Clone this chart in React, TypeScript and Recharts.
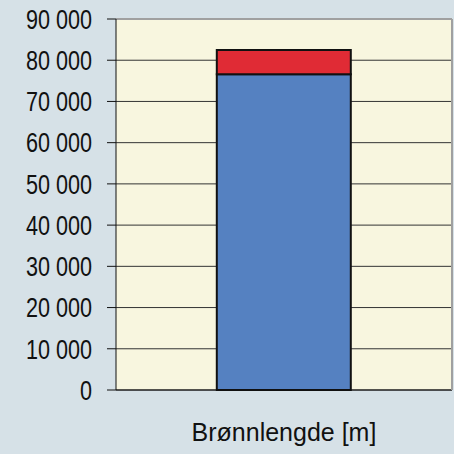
import { BarChart, Bar, XAxis, YAxis, CartesianGrid } from 'recharts'

const categories = ['Brønnlengde [m]']
const lowerValues = [76600]
const upperValues = [5900]
const yTicks = [0, 10000, 20000, 30000, 40000, 50000, 60000, 70000, 80000, 90000]

const data = categories.map((name, i) => ({
  name,
  lower: lowerValues[i],
  upper: upperValues[i],
}))

const fmt = (v: number) => (v === 0 ? '0' : `${Math.floor(v / 1000)} ${String(v % 1000).padStart(3, '0')}`)

// narrow-looking tick labels (no Arial Narrow installed, so squeeze Liberation Sans)
const NarrowTick = ({ x, y, payload }: any) => (
  <g transform={`translate(${x},${y})`}>
    <text
      transform="scale(0.8,1)"
      textAnchor="end"
      dy="0.36em"
      fill="#111"
      fontSize={27}
      fontFamily="Liberation Sans, Arial, sans-serif"
    >
      {fmt(payload.value)}
    </text>
  </g>
)

const App = () => {
  return (
    <div style={{ position: 'absolute', left: 0, top: 0, width: 454, height: 454, background: '#d6e1e7' }}>
      <BarChart
        width={454}
        height={454}
        data={data}
        margin={{ top: 18, right: 0, bottom: 0, left: 0 }}
        barCategoryGap="30%"
      >
        <CartesianGrid vertical={false} stroke="#333" fill="#f8f6df" yAxisId="left" xAxisId="cat" />
        <XAxis
          xAxisId="cat"
          dataKey="name"
          height={1}
          stroke="#111"
          tickLine={false}
          tickSize={0}
          tickMargin={33}
          tick={{ fill: '#111', fontSize: 25, fontFamily: 'Liberation Sans, Arial, sans-serif' }}
        />
        {/* edge ticks at the plot borders, Excel style */}
        <XAxis
          xAxisId="edge"
          type="number"
          domain={[0, 1]}
          ticks={[0, 1]}
          height={63}
          tick={false}
          axisLine={false}
          stroke="#111"
          tickLine={{ stroke: '#111' }}
          tickSize={9}
        />
        <XAxis xAxisId="top" orientation="top" height={1} tick={false} tickLine={false} stroke="#a0a0a0" strokeWidth={2} />
        <YAxis
          yAxisId="left"
          width={116}
          domain={[0, 90000]}
          ticks={yTicks}
          stroke="#111"
          tickLine={{ stroke: '#111' }}
          tickSize={9}
          tickMargin={15}
          interval={0}
          tick={<NarrowTick />}
        />
        <YAxis yAxisId="right" orientation="right" width={2} tick={false} tickLine={false} stroke="#a0a0a0" strokeWidth={2} />
        <Bar dataKey="lower" stackId="a" xAxisId="cat" yAxisId="left" fill="#5581c1" stroke="#111" strokeWidth={2} isAnimationActive={false} />
        <Bar dataKey="upper" stackId="a" xAxisId="cat" yAxisId="left" fill="#e02b35" stroke="#111" strokeWidth={2} isAnimationActive={false} />
      </BarChart>
    </div>
  )
}

export default App
